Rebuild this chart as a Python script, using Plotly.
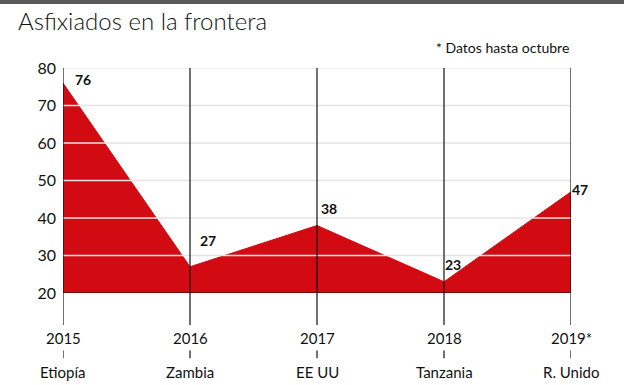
import plotly.graph_objects as go

years = [2015, 2016, 2017, 2018, 2019]
year_labels = ["2015", "2016", "2017", "2018", "2019*"]
countries = ["Etiopía", "Zambia", "EE UU", "Tanzania", "R. Unido"]
countries2 = ["Argelia", "Malawi", "México", "Mozambique", "EE UU"]
values = [76, 27, 38, 23, 47]
y_ticks = [20, 30, 40, 50, 60, 70, 80]

RED = "#d20b12"
FONT = "Lato, Roboto, sans-serif"

fig = go.Figure()
fig.add_trace(go.Scatter(
    x=years, y=values, mode="lines", fill="tozeroy",
    fillcolor=RED, line=dict(color=RED, width=1), hoverinfo="skip",
))

shapes = []
# top bar
shapes.append(dict(type="rect", xref="paper", yref="paper", x0=-0.2, x1=1.2,
                   y0=1.284, y1=1.32, fillcolor="#5a5a5a", line=dict(width=0), layer="above"))
# gridlines above the fill
for v in y_ticks[1:]:
    shapes.append(dict(type="line", xref="x", yref="y", x0=years[0], x1=years[-1],
                       y0=v, y1=v, line=dict(color="#e4e4e4", width=1.5), layer="above"))
# vertical lines and small ticks
for yr in years:
    shapes.append(dict(type="line", xref="x", yref="paper", x0=yr, x1=yr,
                       y0=1, y1=-0.142, line=dict(color="#111111", width=1.2), layer="above"))
    shapes.append(dict(type="line", xref="x", yref="paper", x0=yr, x1=yr,
                       y0=-0.255, y1=-0.29, line=dict(color="#111111", width=1.2), layer="above"))
# baseline at 20
shapes.append(dict(type="line", xref="x", yref="y", x0=years[0], x1=years[-1],
                   y0=20, y1=20, line=dict(color="#111111", width=1), layer="above"))

annotations = []
label_shift = [(10, 4), (8, 26), (2, 17), (-1, 17), (-1, 2)]
for yr, v, (dx, dy) in zip(years, values, label_shift):
    annotations.append(dict(x=yr, y=v, xref="x", yref="y", text=f"<b>{v}</b>",
                            showarrow=False, xanchor="left", yanchor="middle",
                            xshift=dx, yshift=dy,
                            font=dict(family=FONT, size=14, color="#111111")))
for yr, yl, c1, c2 in zip(years, year_labels, countries, countries2):
    annotations.append(dict(x=yr, y=-0.2, xref="x", yref="paper", text=yl,
                            showarrow=False, xanchor="center", yanchor="middle",
                            font=dict(family=FONT, size=15, color="#111111")))
    annotations.append(dict(x=yr, y=-0.35, xref="x", yref="paper", text=c1,
                            showarrow=False, xanchor="center", yanchor="middle",
                            font=dict(family=FONT, size=15, color="#111111")))
    annotations.append(dict(x=yr, y=-0.445, xref="x", yref="paper", text=c2,
                            showarrow=False, xanchor="center", yanchor="middle",
                            font=dict(family=FONT, size=15, color="#111111")))
annotations.append(dict(x=-0.0925, y=1.213, xref="paper", yref="paper",
                        text="Asfixiados en la frontera", showarrow=False,
                        xanchor="left", yanchor="middle",
                        font=dict(family=FONT, size=24, weight=300, color="#111111")))
annotations.append(dict(x=0.9995, y=1.09, xref="paper", yref="paper",
                        text="* Datos hasta octubre", showarrow=False,
                        xanchor="right", yanchor="middle",
                        font=dict(family=FONT, size=14, color="#111111")))

fig.update_layout(
    width=624, height=385,
    margin=dict(l=63, r=53, t=68, b=92),
    paper_bgcolor="white", plot_bgcolor="white",
    showlegend=False,
    xaxis=dict(range=[2015, 2019], showgrid=False, zeroline=False,
               showticklabels=False, ticks="", showline=False, fixedrange=True),
    yaxis=dict(range=[20, 80], tickvals=y_ticks, showgrid=False, zeroline=False,
               showline=False, ticks="", ticklabelstandoff=6,
               tickfont=dict(family=FONT, size=16, color="#111111")),
    shapes=shapes, annotations=annotations,
)

fig.write_html("out.html", config={"displayModeBar": False},
               post_script="document.body.style.margin='0';document.body.style.overflow='hidden';")
